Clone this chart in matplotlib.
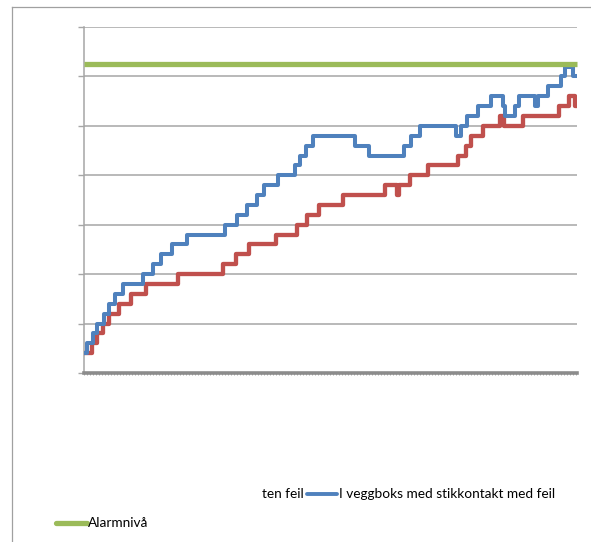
import matplotlib
matplotlib.use("Agg")
import matplotlib.pyplot as plt
from matplotlib.lines import Line2D

# Step series: sample index where the level changes, and the new level
t_blue = [0, 3, 9, 13, 20, 25, 31, 39, 59, 69, 77, 88, 103, 141, 153, 163, 173, 180,
          194, 211, 216, 222, 229, 271, 285, 320, 327, 336, 372, 377, 383, 394, 407,
          419, 421, 431, 435, 451, 454, 464, 477, 481, 489]
v_blue = [2, 3, 4, 5, 6, 7, 8, 9, 10, 11, 12, 13, 14, 15, 16, 17, 18, 19,
          20, 21, 22, 23, 24, 23, 22, 23, 24, 25, 24, 25, 26, 27, 28,
          27, 26, 27, 28, 27, 28, 29, 30, 31, 30]

t_red = [0, 8, 13, 19, 25, 35, 47, 62, 94, 139, 152, 165, 192, 213, 223, 235, 259,
         301, 313, 315, 326, 344, 374, 382, 387, 399, 416, 420, 439, 475, 485, 491]
v_red = [2, 3, 4, 5, 6, 7, 8, 9, 10, 11, 12, 13, 14, 15, 16, 17, 18,
         19, 18, 19, 20, 21, 22, 23, 24, 25, 26, 25, 26, 27, 28, 27]

t_end = 493
alarm_level = 31.3
y_max = 35
y_step = 5

label_red = "Uten feil"
label_blue = "I veggboks med stikkontakt med feil"
label_alarm = "Alarmnivå"

c_blue = "#4f81bd"
c_red = "#c0504d"
c_green = "#9bbb59"
c_grid = "#a6a6a6"

W, H = 591, 542
fig = plt.figure(figsize=(W / 100, H / 100), dpi=100)
fig.patch.set_facecolor("white")

def fx(px):
    return px / W

def fy(py):
    return 1 - py / H

# chart frame
fig.add_artist(Line2D([fx(12), 1.0], [fy(7), fy(7)], color="#a0a0a0", lw=0.9))
fig.add_artist(Line2D([fx(12), fx(12)], [fy(7), 0.0], color="#a0a0a0", lw=0.9))

ax = fig.add_axes([fx(84), fy(373), fx(577) - fx(84), fy(27) - fy(373)])
ax.set_xlim(0, t_end)
ax.set_ylim(0, y_max)

ax.set_yticks(range(0, y_max + 1, y_step))
ax.yaxis.grid(True, color=c_grid, lw=1.1)
ax.set_axisbelow(True)
ax.tick_params(axis="y", direction="out", length=4, width=1, color=c_grid,
               labelleft=False)
ax.set_xticks(range(0, t_end + 1, 3))
ax.tick_params(axis="x", direction="out", length=1.5, width=0.6, color="#9a9a9a",
               labelbottom=False)

for s in ("top", "right"):
    ax.spines[s].set_visible(False)
ax.spines["left"].set_color(c_grid)
ax.spines["left"].set_linewidth(1.1)
ax.spines["bottom"].set_color("#8c8c8c")
ax.spines["bottom"].set_linewidth(2.6)

def stepped(t, v):
    return list(t) + [t_end], list(v) + [v[-1]]

xr, yr = stepped(t_red, v_red)
xb, yb = stepped(t_blue, v_blue)
ax.plot(xr, yr, drawstyle="steps-post", color=c_red, lw=3.1,
        solid_joinstyle="round", solid_capstyle="round", zorder=3)
ax.plot(xb, yb, drawstyle="steps-post", color=c_blue, lw=2.9,
        solid_joinstyle="round", solid_capstyle="round", zorder=4)
ax.plot([0, t_end], [alarm_level, alarm_level], color=c_green, lw=3.8,
        solid_capstyle="butt", zorder=5, clip_on=False)

# legend, left part of first row cut off by the frame
font = dict(family=["Lato", "DejaVu Sans"], fontsize=9.8, color="black")
fig.text(fx(304), fy(494), label_red[1:], ha="right", va="center", **font)
fig.add_artist(Line2D([fx(307), fx(337)], [fy(494), fy(494)], color=c_blue,
                      lw=2.8, solid_capstyle="round"))
fig.text(fx(339), fy(494), label_blue, ha="left", va="center", **font)
fig.add_artist(Line2D([fx(56), fx(87)], [fy(523), fy(523)], color=c_green,
                      lw=3.8, solid_capstyle="round"))
fig.text(fx(88), fy(523), label_alarm, ha="left", va="center", **font)

fig.savefig("out.png", dpi=100)
